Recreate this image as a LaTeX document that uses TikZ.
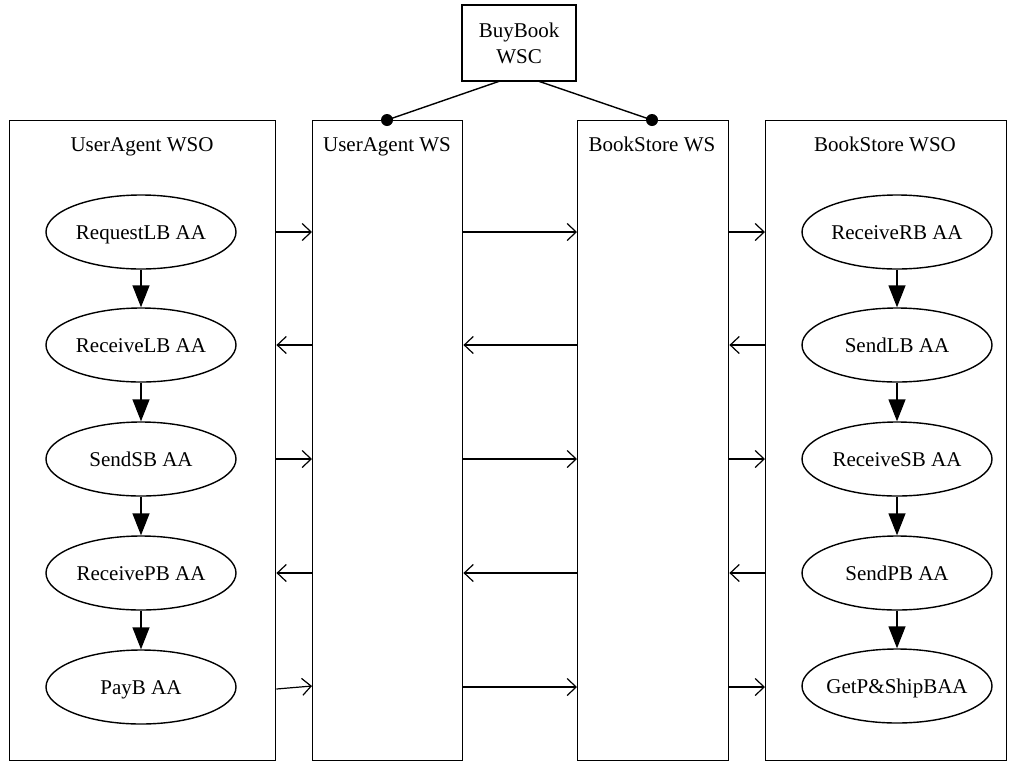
\documentclass[tikz,border=0pt]{standalone}
\usepackage{fontspec}
\setmainfont{Liberation Serif}
\usetikzlibrary{arrows.meta,shapes.geometric}
\begin{document}
\begin{tikzpicture}[x=1pt,y=-1pt,line width=1.4pt,
  every node/.style={font=\fontsize{21}{26}\selectfont},
  container/.style={draw,rectangle,inner sep=0pt,anchor=north west},
  activity/.style={draw,ellipse,minimum width=190pt,minimum height=74pt,inner sep=0pt,text height=14pt,text depth=0pt},
  flow/.style={-{Triangle[length=22pt,width=17pt]}},
  msg/.style={-{Straight Barb[length=9pt,width=17pt]},line width=1.2pt},
  lbl/.style={inner sep=0pt,anchor=base},
  dot/.style={circle,fill=black,inner sep=0pt,minimum size=12pt}]
\useasboundingbox (0,0) rectangle (1016,761);
% containers
\node[container,minimum width=266pt,minimum height=640pt] (uawso) at (9,120) {};
\node[container,minimum width=150pt,minimum height=640pt] (uaws) at (312,120) {};
\node[container,minimum width=151pt,minimum height=640pt] (bsws) at (577,120) {};
\node[container,minimum width=241pt,minimum height=640pt] (bswso) at (765,120) {};
\node[lbl] (t1) at (142,151) {UserAgent WSO};
\node[lbl] (t2) at (387,151) {UserAgent WS};
\node[lbl] (t3) at (652,151) {BookStore WS};
\node[lbl] (t4) at (885,151) {BookStore WSO};
% WSC
\node[draw,rectangle,minimum width=114pt,minimum height=76pt,align=center,inner sep=0pt] (wsc) at (519,43) {BuyBook\\WSC};
\node[dot] (d1) at (387,120) {};
\node[dot] (d2) at (652,120) {};
\coordinate (w1) at (500,81);
\coordinate (w2) at (538,81);
\draw (w1) -- (d1.center);
\draw (w2) -- (d2.center);
% left activities
\node[activity] (a1) at (141,232) {RequestLB AA};
\node[activity] (a2) at (141,345) {ReceiveLB AA};
\node[activity] (a3) at (141,459) {SendSB AA};
\node[activity] (a4) at (141,573) {ReceivePB AA};
\node[activity] (a5) at (141,687) {PayB AA};
\draw[flow] (a1) -- (a2);
\draw[flow] (a2) -- (a3);
\draw[flow] (a3) -- (a4);
\draw[flow] (a4) -- (a5);
% right activities
\node[activity] (b1) at (897,232) {ReceiveRB AA};
\node[activity] (b2) at (897,345) {SendLB AA};
\node[activity] (b3) at (897,459) {ReceiveSB AA};
\node[activity] (b4) at (897,573) {SendPB AA};
\node[activity,inner xsep=-6pt] (b5) at (897,686) {GetP\&ShipBAA};
\draw[flow] (b1) -- (b2);
\draw[flow] (b2) -- (b3);
\draw[flow] (b3) -- (b4);
\draw[flow] (b4) -- (b5);
% messages
\draw[msg] (uawso.east |- a1) -- (uaws.west |- a1);
\draw[msg] (uaws.east |- a1) -- (bsws.west |- a1);
\draw[msg] (bsws.east |- a1) -- (bswso.west |- a1);
\draw[msg] (uaws.west |- a2) -- (uawso.east |- a2);
\draw[msg] (bsws.west |- a2) -- (uaws.east |- a2);
\draw[msg] (bswso.west |- a2) -- (bsws.east |- a2);
\draw[msg] (uawso.east |- a3) -- (uaws.west |- a3);
\draw[msg] (uaws.east |- a3) -- (bsws.west |- a3);
\draw[msg] (bsws.east |- a3) -- (bswso.west |- a3);
\draw[msg] (uaws.west |- a4) -- (uawso.east |- a4);
\draw[msg] (bsws.west |- a4) -- (uaws.east |- a4);
\draw[msg] (bswso.west |- a4) -- (bsws.east |- a4);
\draw[msg] ([yshift=-2pt]uawso.east |- a5) -- ([yshift=1pt]uaws.west |- a5);
\draw[msg] (uaws.east |- a5) -- (bsws.west |- a5);
\draw[msg] (bsws.east |- a5) -- (bswso.west |- a5);
\end{tikzpicture}
\end{document}
